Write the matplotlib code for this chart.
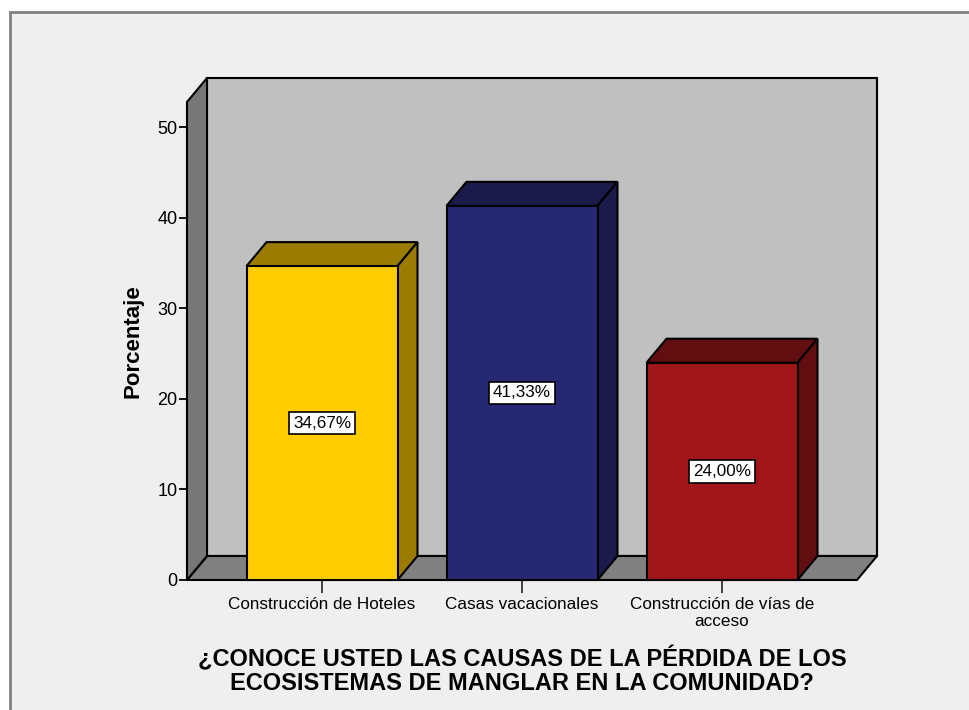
import numpy as np
import matplotlib
matplotlib.use('Agg')
from matplotlib import pyplot as plt
from matplotlib.patches import Polygon, Rectangle

plt.rcParams['font.family'] = ['Liberation Sans', 'DejaVu Sans']

categorias = ['Construcción de Hoteles', 'Casas vacacionales', 'Construcción de vías de\nacceso']
porcentajes = [34.67, 41.33, 24.00]
etiquetas = ['34,67%', '41,33%', '24,00%']
yticks = [0, 10, 20, 30, 40, 50]
titulo = '¿CONOCE USTED LAS CAUSAS DE LA PÉRDIDA DE LOS\nECOSISTEMAS DE MANGLAR EN LA COMUNIDAD?'

# front / top-side colours of each bar
frente = ['#ffcc00', '#272874', '#a1161a']
lado = ['#9c7c00', '#1a1b4b', '#620d10']

W, H = 970, 710
fig = plt.figure(figsize=(W / 100, H / 100), dpi=100)
fig.patch.set_facecolor('white')

# grey panel with border (SPSS viewer look)
fig.patches.append(Rectangle((10 / W, -0.01), 1.0, (H - 12) / H + 0.01,
                             transform=fig.transFigure, facecolor='#efefef',
                             edgecolor='#808080', linewidth=2, zorder=-10))

ax = fig.add_axes([187 / W, (H - 580) / H, 670 / W, 478 / H])
ax.set_xlim(-0.675, 2.675)
ax.set_ylim(0, 52.8)
ax.patch.set_visible(False)
for s in ax.spines.values():
    s.set_visible(False)

# depth offset in data units (20 px right, 24 px up)
x0, x1 = ax.get_xlim()
y0, y1 = ax.get_ylim()
dx = 20 / (670 / (x1 - x0))
dy = 24 / (478 / (y1 - y0))

lw = 1.5
# back wall
ax.add_patch(Polygon([(x0 + dx, y0 + dy), (x1 + dx, y0 + dy), (x1 + dx, y1 + dy), (x0 + dx, y1 + dy)],
                     closed=True, facecolor='#c0c0c0', edgecolor='black', lw=lw, clip_on=False, zorder=1))
# floor
ax.add_patch(Polygon([(x0, y0), (x1, y0), (x1 + dx, y0 + dy), (x0 + dx, y0 + dy)],
                     closed=True, facecolor='#808080', edgecolor='black', lw=lw, clip_on=False, zorder=2))
# left wall
ax.add_patch(Polygon([(x0, y0), (x0, y1), (x0 + dx, y1 + dy), (x0 + dx, y0 + dy)],
                     closed=True, facecolor='#777777', edgecolor='black', lw=lw, clip_on=False, zorder=2))

ancho = 0.755
for i, v in enumerate(porcentajes):
    a, b = i - ancho / 2, i + ancho / 2
    ax.add_patch(Polygon([(a, v), (b, v), (b + dx, v + dy), (a + dx, v + dy)], closed=True,
                         facecolor=lado[i], edgecolor='black', lw=lw, clip_on=False, zorder=3))
    ax.add_patch(Polygon([(b, 0), (b + dx, dy), (b + dx, v + dy), (b, v)], closed=True,
                         facecolor=lado[i], edgecolor='black', lw=lw, clip_on=False, zorder=3))
    ax.add_patch(Rectangle((a, 0), ancho, v, facecolor=frente[i], edgecolor='black',
                           lw=lw, clip_on=False, zorder=4))
    ax.text(i, v / 2, etiquetas[i], ha='center', va='center', fontsize=12.3, zorder=5,
            bbox=dict(boxstyle='square,pad=0.22', facecolor='white', edgecolor='black', lw=1.2))

ax.set_yticks(yticks)
ax.set_yticklabels([str(t) for t in yticks])
ax.set_xticks(range(len(categorias)))
ax.set_xticklabels(categorias, linespacing=1.2)
ax.tick_params(axis='y', direction='out', length=6, width=1.3, labelsize=13, pad=1, color='black')
ax.tick_params(axis='x', direction='out', length=9, width=1.3, labelsize=12.3, pad=3, color='#333333')

ax.set_ylabel('Porcentaje', fontsize=16, fontweight='bold', labelpad=10)
ax.set_xlabel(titulo, fontsize=17, fontweight='bold', labelpad=12, linespacing=1.05)

fig.savefig('out.png', dpi=100, facecolor=fig.get_facecolor())
